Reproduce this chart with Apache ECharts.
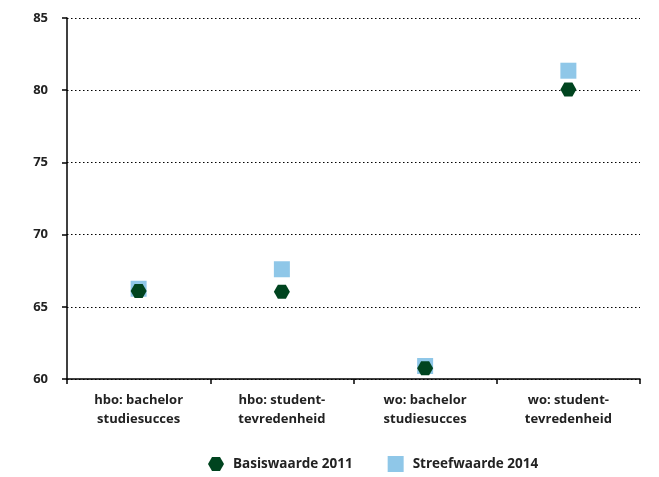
<!DOCTYPE html>
<html>
<head>
<meta charset="utf-8">
<script src="https://cdn.jsdelivr.net/npm/echarts@6/dist/echarts.min.js"></script>
<style>
  html, body { margin: 0; padding: 0; background: #fff; }
  #chart { width: 659px; height: 477px; }
</style>
</head>
<body>
<div id="chart"></div>
<script>
// data
const categories = [
  'hbo: bachelor\nstudiesucces',
  'hbo: student-\ntevredenheid',
  'wo: bachelor\nstudiesucces',
  'wo: student-\ntevredenheid'
];
const basiswaarde2011 = [66.1, 66.05, 60.75, 80.05];
const streefwaarde2014 = [66.25, 67.6, 60.9, 81.35];

const hexagon = 'path://M0,7 L4,0 L12,0 L16,7 L12,14 L4,14 Z';
const font = '"Open Sans", "DejaVu Sans", sans-serif';

const chart = echarts.init(document.getElementById('chart'));

const option = {
  animation: false,
  textStyle: { fontFamily: font },
  grid: {
    left: 67,
    right: 19,
    top: 18,
    bottom: 98
  },
  legend: {
    bottom: 0,
    left: 203,
    itemGap: 35,
    itemWidth: 16,
    itemHeight: 16,
    data: ['Basiswaarde 2011', 'Streefwaarde 2014'],
    textStyle: { fontFamily: font, fontWeight: 'bold', fontSize: 13.5, color: '#222', padding: [0, 0, 0, 4] }
  },
  xAxis: {
    type: 'category',
    data: categories,
    boundaryGap: true,
    axisLine: { lineStyle: { color: '#000', width: 1.5 } },
    axisTick: { show: true, length: 5, lineStyle: { color: '#000', width: 1.5 } },
    axisLabel: {
      margin: 12,
      fontFamily: font,
      fontWeight: 'bold',
      fontSize: 13,
      color: '#222',
      lineHeight: 19
    },
    splitLine: { show: false }
  },
  yAxis: {
    type: 'value',
    min: 60,
    max: 85,
    interval: 5,
    axisLine: { show: true, lineStyle: { color: '#000', width: 1.5 } },
    axisTick: { show: true, length: 5, lineStyle: { color: '#000', width: 1.5 } },
    axisLabel: {
      margin: 19,
      fontFamily: font,
      fontWeight: 'bold',
      fontSize: 13,
      color: '#222'
    },
    splitLine: { show: true, lineStyle: { color: '#000', type: [1.5, 2.5], width: 1 } }
  },
  series: [
    {
      name: 'Streefwaarde 2014',
      type: 'scatter',
      symbol: 'rect',
      symbolSize: 16,
      itemStyle: { color: '#8fc7e8', opacity: 1 },
      data: streefwaarde2014,
      z: 2
    },
    {
      name: 'Basiswaarde 2011',
      type: 'scatter',
      symbol: hexagon,
      symbolSize: [16, 14],
      itemStyle: { color: '#00441f', opacity: 1 },
      data: basiswaarde2011,
      z: 3
    }
  ]
};

chart.setOption(option);
window.addEventListener('resize', () => chart.resize());
</script>
</body>
</html>
